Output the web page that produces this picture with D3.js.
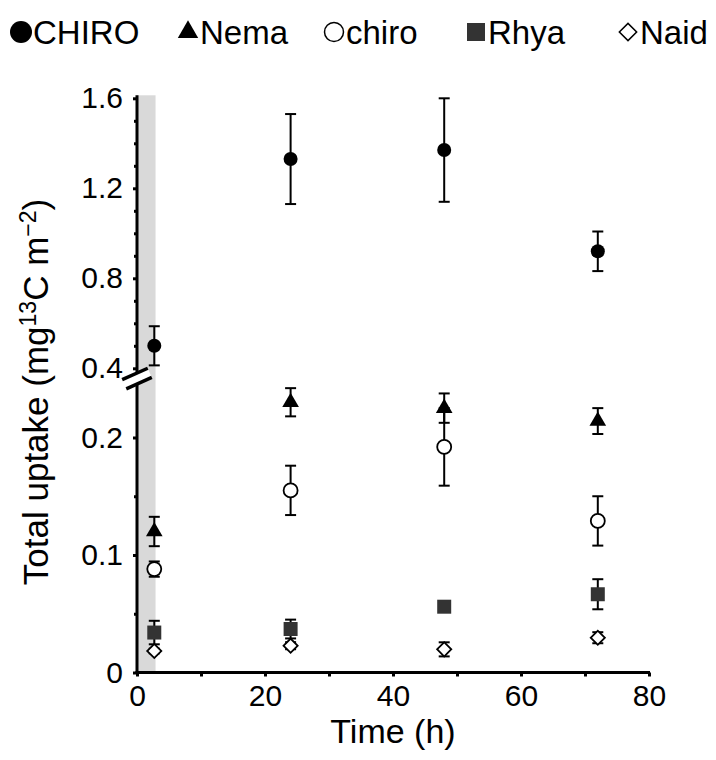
<!DOCTYPE html>
<html><head><meta charset="utf-8">
<script src="https://cdn.jsdelivr.net/npm/d3@7"></script>
<style>body{margin:0;background:#fff} text{font-family:"Liberation Sans",Arial,sans-serif;fill:#000}</style>
</head><body><svg id="c" width="716" height="760"></svg>
<script>
const times = [2.7, 24, 48, 72];
const seriesNames = ["CHIRO", "Nema", "chiro", "Rhya", "Naid"];
const chiroBig = [0.50, 1.33, 1.37, 0.92];
const chiroBigErr = [0.087, 0.20, 0.23, 0.088];
const nema = [0.120, 0.230, 0.225, 0.214];
const nemaErr = [0.0125, 0.012, 0.0125, 0.011];
const chiroSmall = [0.088, 0.155, 0.192, 0.129];
const chiroSmallErr = [0.0065, 0.021, 0.033, 0.021];
const rhya = [0.034, 0.037, 0.056, 0.0666];
const rhyaErr = [0.010, 0.008, 0.003, 0.0128];
const naid = [0.0183, 0.0228, 0.0197, 0.0296];
const naidErr = [0.002, 0.003, 0.006, 0.0047];
const xTicks = [0, 20, 40, 60, 80];
const xMinorTicks = [10, 30, 50, 70];
const yUpperTicks = [0.4, 0.8, 1.2, 1.6];
const yUpperMinor = [0.5, 0.6, 0.7, 0.9, 1.0, 1.1, 1.3, 1.4, 1.5];
const yLowerTicks = [0, 0.1, 0.2];
const yLowerMinor = [0.05, 0.15];
const shadeEnd = 2.9;

const series = [
  {name: seriesNames[0], vals: chiroBig, err: chiroBigErr, sym: "circle", fill: "#000"},
  {name: seriesNames[1], vals: nema, err: nemaErr, sym: "triangle", fill: "#000"},
  {name: seriesNames[2], vals: chiroSmall, err: chiroSmallErr, sym: "circle", fill: "#fff"},
  {name: seriesNames[3], vals: rhya, err: rhyaErr, sym: "square", fill: "#333"},
  {name: seriesNames[4], vals: naid, err: naidErr, sym: "diamond", fill: "#fff"}
];

const svg = d3.select("#c");
const x = d3.scaleLinear().domain([0, 80]).range([137, 649]);
const yU = d3.scaleLinear().domain([0.4, 1.6]).range([368.3, 98.3]);
const yL = d3.scaleLinear().domain([0, 0.25]).range([672.5, 378.75]);
const y = v => v >= 0.3 ? yU(v) : yL(v);

// shaded band
svg.append("rect").attr("x", x(0)).attr("y", yU(1.6) - 3).attr("width", x(shadeEnd) - x(0))
  .attr("height", yL(0) - yU(1.6) + 3).attr("fill", "#d9d9d9");

function styleAxis(g) {
  g.select(".domain").attr("stroke", "#000").attr("stroke-width", 3);
  g.selectAll(".tick line").attr("stroke", "#000").attr("stroke-width", 3);
  g.selectAll(".tick text").attr("font-size", 30).attr("font-family", '"Liberation Sans",Arial,sans-serif');
}

// y axes
const gU = svg.append("g").attr("transform", `translate(${x(0)},0)`)
  .call(d3.axisLeft(yU).tickValues(yUpperTicks).tickFormat(d3.format(".1f")).tickSize(4).tickSizeOuter(0).tickPadding(10));
styleAxis(gU);
gU.select(".domain").attr("d", `M0,${yU(1.6) - 3}V${yU(0.4) + 4}`);
const gUm = svg.append("g").attr("transform", `translate(${x(0)},0)`)
  .call(d3.axisLeft(yU).tickValues(yUpperMinor).tickFormat("").tickSize(3).tickSizeOuter(0));
gUm.select(".domain").remove();
gUm.selectAll(".tick line").attr("stroke", "#000").attr("stroke-width", 3);

const gL = svg.append("g").attr("transform", `translate(${x(0)},0)`)
  .call(d3.axisLeft(yL).tickValues(yLowerTicks).tickFormat(d => d === 0 ? "0" : d3.format(".1f")(d)).tickSize(4).tickSizeOuter(0).tickPadding(10));
styleAxis(gL);
gL.select(".domain").attr("d", `M0,${yU(0.4) + 10}V${yL(0) + 1.5}`);
const gLm = svg.append("g").attr("transform", `translate(${x(0)},0)`)
  .call(d3.axisLeft(yL).tickValues(yLowerMinor).tickFormat("").tickSize(3).tickSizeOuter(0));
gLm.select(".domain").remove();
gLm.selectAll(".tick line").attr("stroke", "#000").attr("stroke-width", 3);

// x axis
const gX = svg.append("g").attr("transform", `translate(0,${yL(0)})`)
  .call(d3.axisBottom(x).tickValues(xTicks).tickSize(4).tickSizeOuter(0).tickPadding(8));
styleAxis(gX);
gX.select(".domain").attr("d", `M${x(0) - 1.5},0H${x(80) + 1}`);
const gXm = svg.append("g").attr("transform", `translate(0,${yL(0)})`)
  .call(d3.axisBottom(x).tickValues(xMinorTicks).tickFormat("").tickSize(4).tickSizeOuter(0));
gXm.select(".domain").remove();
gXm.selectAll(".tick line").attr("stroke", "#000").attr("stroke-width", 3);

// axis break
const bx = x(0), by = (yU(0.4) + yL(0.25)) / 2 + 5;
const brk = svg.append("g").attr("transform", `translate(${bx},${by}) rotate(-24)`);
brk.append("rect").attr("x", -14).attr("y", -5).attr("width", 28).attr("height", 10).attr("fill", "#fff");
brk.append("line").attr("x1", -14).attr("x2", 14).attr("y1", -5).attr("y2", -5).attr("stroke", "#000").attr("stroke-width", 3.5);
brk.append("line").attr("x1", -14).attr("x2", 14).attr("y1", 5).attr("y2", 5).attr("stroke", "#000").attr("stroke-width", 3.5);

// symbols
function symPath(s) {
  if (s === "circle") return d3.symbol(d3.symbolCircle, Math.PI * 49)();
  if (s === "triangle") return d3.symbol(d3.symbolTriangle, 120)();
  if (s === "square") return d3.symbol(d3.symbolSquare, 196)();
  return d3.symbol(d3.symbolSquare, 100)();
}

const capW = 5.5;
series.forEach(s => {
  const g = svg.append("g");
  times.forEach((t, i) => {
    const v = s.vals[i], e = s.err[i];
    const cx = x(t), top = y(v + e), bot = y(v - e);
    g.append("line").attr("x1", cx).attr("x2", cx).attr("y1", top).attr("y2", bot).attr("stroke", "#000").attr("stroke-width", 2);
    [top, bot].forEach(yy => g.append("line").attr("x1", cx - capW).attr("x2", cx + capW).attr("y1", yy).attr("y2", yy).attr("stroke", "#000").attr("stroke-width", 2));
  });
  times.forEach((t, i) => {
    const p = g.append("path").attr("d", symPath(s.sym))
      .attr("transform", `translate(${x(t)},${y(s.vals[i])})` + (s.sym === "diamond" ? " rotate(45)" : ""))
      .attr("fill", s.fill);
    if (s.fill === "#fff") p.attr("stroke", "#000").attr("stroke-width", 1.8);
  });
});

// axis titles
svg.append("text").attr("x", (x(0) + x(80)) / 2).attr("y", 743).attr("text-anchor", "middle")
  .attr("font-size", 34).text("Time (h)");
const yt = svg.append("text").attr("transform", `translate(48,392) rotate(-90)`)
  .attr("text-anchor", "middle").attr("font-size", 35);
yt.append("tspan").text("Total uptake (mg");
yt.append("tspan").attr("font-size", 23).attr("dy", -12).text("13");
yt.append("tspan").attr("dy", 12).text("C m");
yt.append("tspan").attr("font-size", 23).attr("dy", -12).text("\u22122");
yt.append("tspan").attr("dy", 12).text(")");

// legend
const legX = [21, 188, 334, 476, 628];
const leg = svg.append("g");
series.forEach((s, i) => {
  const cx = legX[i], cy = 32;
  let d;
  if (s.sym === "circle") d = d3.symbol(d3.symbolCircle, Math.PI * (s.fill === "#000" ? 121 : 90))();
  else if (s.sym === "triangle") d = d3.symbol(d3.symbolTriangle, 180)();
  else if (s.sym === "square") d = d3.symbol(d3.symbolSquare, 324)();
  else d = d3.symbol(d3.symbolSquare, 150)();
  const p = leg.append("path").attr("d", d).attr("transform", `translate(${cx},${cy})` + (s.sym === "diamond" ? " rotate(45)" : ""))
    .attr("fill", s.fill);
  if (s.fill === "#fff") p.attr("stroke", "#000").attr("stroke-width", 1.5);
  leg.append("text").attr("x", cx + 12).attr("y", cy + 12).attr("font-size", 33).text(s.name);
});
</script></body></html>
